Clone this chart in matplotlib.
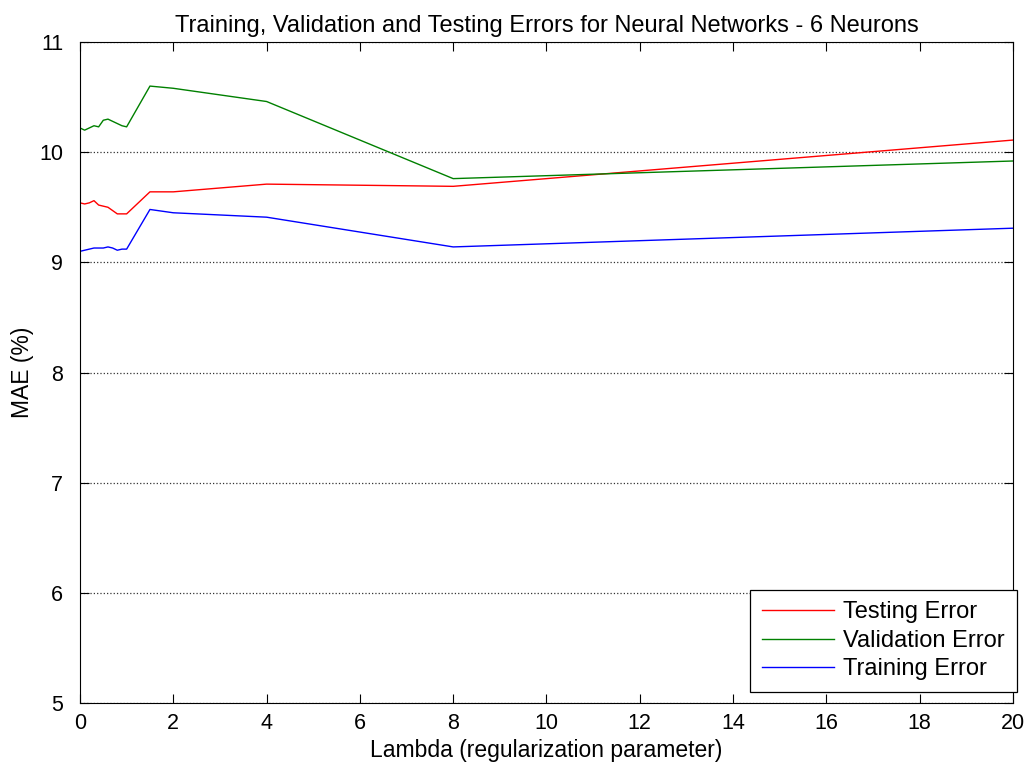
import matplotlib.pyplot as plt

plt.rcParams['font.family'] = ['Liberation Sans', 'DejaVu Sans']
plt.rcParams.update({'font.size': 15})

lam = [0, 0.1, 0.2, 0.3, 0.4, 0.5, 0.6, 0.7, 0.8, 0.9, 1, 1.5, 2, 4, 8, 20]
testing = [9.54, 9.53, 9.54, 9.56, 9.52, 9.51, 9.50, 9.47, 9.44, 9.44, 9.44, 9.64, 9.64, 9.71, 9.69, 10.11]
validation = [10.22, 10.20, 10.22, 10.24, 10.23, 10.29, 10.30, 10.28, 10.26, 10.24, 10.23, 10.60, 10.58, 10.46, 9.76, 9.92]
training = [9.10, 9.11, 9.12, 9.13, 9.13, 9.13, 9.14, 9.13, 9.11, 9.12, 9.12, 9.48, 9.45, 9.41, 9.14, 9.31]

fig = plt.figure(figsize=(10.28, 7.71), dpi=100)
ax = fig.add_axes([0.0778, 0.0882, 0.9076, 0.8573])

ax.plot(lam, testing, color='red', linewidth=1, label='Testing Error')
ax.plot(lam, validation, color='green', linewidth=1, label='Validation Error')
ax.plot(lam, training, color='blue', linewidth=1, label='Training Error')

ax.set_xlim(0, 20)
ax.set_ylim(5, 11)
ax.set_xticks(range(0, 21, 2))
ax.set_yticks(range(5, 12))
ax.tick_params(direction='in', top=True, right=True, length=6.5, labelsize=15.5)
ax.tick_params(axis='y', pad=12)
ax.tick_params(axis='x', pad=7)
ax.grid(axis='y', linestyle=':', color='#333333', linewidth=0.9)

ax.set_title('Training, Validation and Testing Errors for Neural Networks - 6 Neurons', fontsize=17, pad=7)
ax.set_xlabel('Lambda (regularization parameter)', fontsize=16.5, labelpad=4)
ax.set_ylabel('MAE (%)', fontsize=16.5, labelpad=4)

leg = ax.legend(loc='lower right', bbox_to_anchor=(1.004, 0.0166), fancybox=False,
                framealpha=1, edgecolor='black', fontsize=17, handlelength=3.05,
                borderpad=0.5, labelspacing=0.27, handletextpad=0.4, borderaxespad=0)
leg.get_frame().set_linewidth(0.9)

plt.savefig('out.png', dpi=100)
plt.close()
